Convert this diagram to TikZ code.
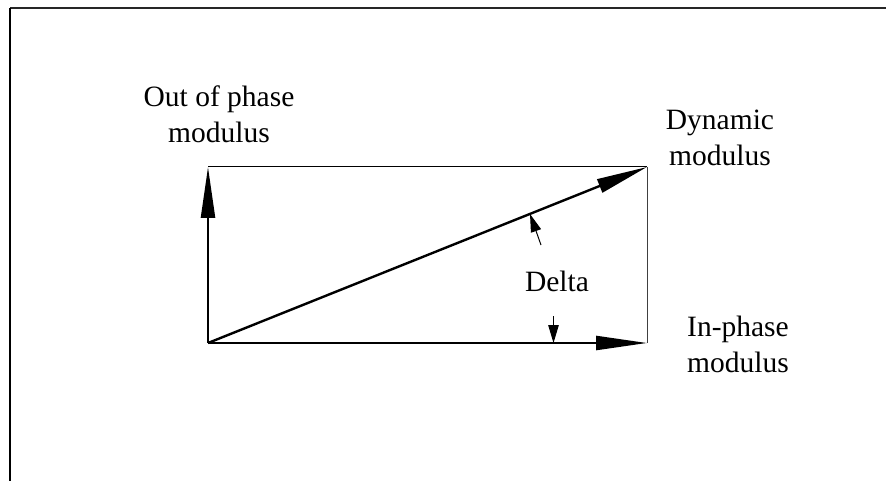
\documentclass[tikz,border=0pt]{standalone}
\usepackage{fontspec}
\setmainfont{Liberation Serif}
\usetikzlibrary{arrows.meta}
\begin{document}
\begin{tikzpicture}[x=1pt,y=-1pt,
  lbl/.style={inner sep=0pt,align=center,font=\fontsize{29.5}{36}\selectfont},
  vec/.style={line width=2.4pt,-{Triangle[length=51pt,width=14pt]}},
  thin/.style={line width=1pt},
  small/.style={line width=1pt,-{Triangle[length=18pt,width=10.5pt]}}]
\useasboundingbox (0,0) rectangle (886,481);
% frame
\draw[line width=1.2pt, black!85] (10,8) -- (886,8);
\draw[line width=1.5pt] (10,8) -- (10,481);
% corner points
\coordinate (O) at (208,343);
\coordinate (A) at (208,167);
\coordinate (B) at (647,167);
\coordinate (C) at (647,343);
% thin edges
\draw[thin] (A) -- (B);
\draw[thin, black!75] (B) -- (C);
% vectors
\draw[vec] (O) -- (A);
\draw[vec] (O) -- (C);
\draw[vec] (O) -- (B);
% labels
\node[lbl] (outl) at (219,114) {Out of phase\\modulus};
\node[lbl] (dynl) at (720,138) {Dynamic\\modulus};
\node[lbl] (inl) at (738,344) {In-phase\\modulus};
\node[lbl] (dell) at (557,281) {Delta};
% delta markers
\coordinate (d1s) at (541,245);
\coordinate (d1e) at (530,214);
\coordinate (d2s) at (553.5,316);
\coordinate (d2e) at (553.5,343);
\draw[small] (d1s) -- (d1e);
\draw[small] (d2s) -- (d2e);
\end{tikzpicture}
\end{document}
